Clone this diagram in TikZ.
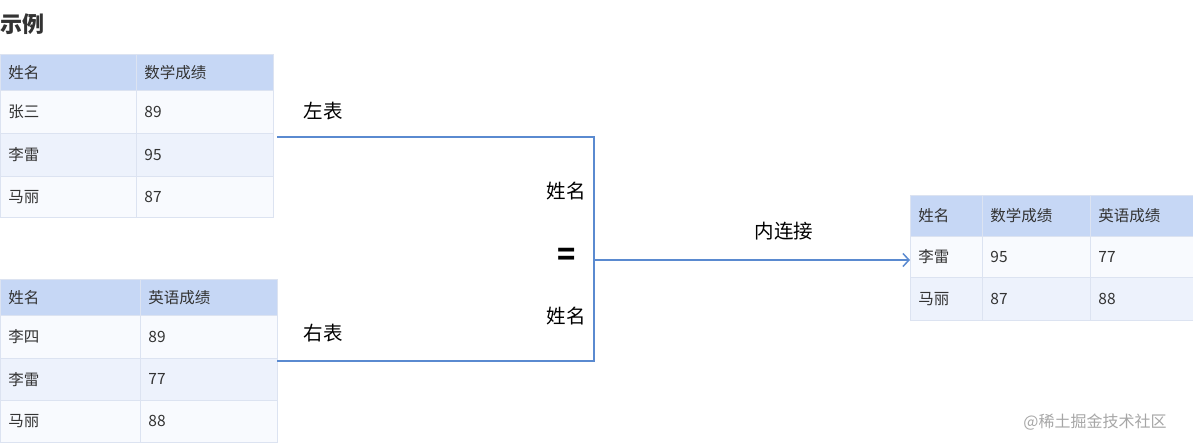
\documentclass[tikz,border=0pt]{standalone}
\usepackage{fontspec}
\setmainfont{Noto Sans CJK SC}
\usetikzlibrary{arrows.meta}
\definecolor{hdr}{HTML}{C6D7F5}
\definecolor{rowa}{HTML}{F8FAFE}
\definecolor{rowb}{HTML}{EDF2FC}
\definecolor{grid}{HTML}{DCE3F1}
\definecolor{link}{HTML}{5A8AD0}
\definecolor{txt}{HTML}{333333}
\tikzset{
  cell/.style={draw=grid, line width=0.8pt, anchor=north west, inner xsep=8pt, inner ysep=0pt, align=left,
    font=\fontsize{15.5}{15.5}\selectfont, text=txt},
  hcell/.style={cell, fill=hdr},
  acell/.style={cell, fill=rowa},
  bcell/.style={cell, fill=rowb},
  lbl/.style={font=\fontsize{19.5}{19.5}\selectfont, text=black, inner sep=0pt},
  conn/.style={draw=link, line width=1.5pt},
}
\begin{document}
\begin{tikzpicture}[x=1pt,y=-1pt]
\useasboundingbox (0,0) rectangle (1193,446);
\node[anchor=west, inner sep=0pt, font=\fontsize{22}{22}\selectfont\bfseries, text=txt] (title) at (0,24) {示例};
% table 1
\node[hcell, text width=120pt, minimum height=36pt] (t1h1) at (0,54) {姓名};
\node[hcell, text width=121pt, minimum height=36pt] (t1h2) at (136,54) {数学成绩};
\node[acell, text width=120pt, minimum height=43pt] (t1a1) at (0,90) {张三};
\node[acell, text width=121pt, minimum height=43pt] (t1a2) at (136,90) {89};
\node[bcell, text width=120pt, minimum height=43pt] (t1b1) at (0,133) {李雷};
\node[bcell, text width=121pt, minimum height=43pt] (t1b2) at (136,133) {95};
\node[acell, text width=120pt, minimum height=41pt] (t1c1) at (0,176) {马丽};
\node[acell, text width=121pt, minimum height=41pt] (t1c2) at (136,176) {87};
% table 2
\node[hcell, text width=124pt, minimum height=36pt] (t2h1) at (0,279) {姓名};
\node[hcell, text width=121pt, minimum height=36pt] (t2h2) at (140,279) {英语成绩};
\node[acell, text width=124pt, minimum height=43pt] (t2a1) at (0,315) {李四};
\node[acell, text width=121pt, minimum height=43pt] (t2a2) at (140,315) {89};
\node[bcell, text width=124pt, minimum height=42pt] (t2b1) at (0,358) {李雷};
\node[bcell, text width=121pt, minimum height=42pt] (t2b2) at (140,358) {77};
\node[acell, text width=124pt, minimum height=42pt] (t2c1) at (0,400) {马丽};
\node[acell, text width=121pt, minimum height=42pt] (t2c2) at (140,400) {88};
% table 3
\node[hcell, text width=56pt, minimum height=41pt] (t3h1) at (910,195) {姓名};
\node[hcell, text width=92pt, minimum height=41pt] (t3h2) at (982,195) {数学成绩};
\node[hcell, text width=87pt, minimum height=41pt] (t3h3) at (1090,195) {英语成绩};
\node[acell, text width=56pt, minimum height=41pt] (t3a1) at (910,236) {李雷};
\node[acell, text width=92pt, minimum height=41pt] (t3a2) at (982,236) {95};
\node[acell, text width=87pt, minimum height=41pt] (t3a3) at (1090,236) {77};
\node[bcell, text width=56pt, minimum height=43pt] (t3b1) at (910,277) {马丽};
\node[bcell, text width=92pt, minimum height=43pt] (t3b2) at (982,277) {87};
\node[bcell, text width=87pt, minimum height=43pt] (t3b3) at (1090,277) {88};
% labels
\node[lbl] (left) at (323,111) {左表};
\node[lbl] (right) at (323,333) {右表};
\node[lbl] (k1) at (566,191) {姓名};
\node[lbl, font=\fontsize{30}{30}\selectfont\bfseries] (eq) at (567,257) {=};
\node[lbl] (k2) at (566,316) {姓名};
\node[lbl] (inner) at (784,231) {内连接};
% connectors
\coordinate (a) at (277,137);
\coordinate (b) at (594,137);
\coordinate (c) at (594,361);
\coordinate (d) at (277,361);
\coordinate (j) at (594,260);
\draw[conn] (a) -- (b) -- (c) -- (d);
\draw[conn, -{Straight Barb[length=6pt,width=13pt]}] (j) -- (t3a1.west |- j);
% watermark
\node[inner sep=0pt, font=\fontsize{16}{16}\selectfont, text=black!35] (wm) at (1095,422) {@稀土掘金技术社区};
\end{tikzpicture}
\end{document}
